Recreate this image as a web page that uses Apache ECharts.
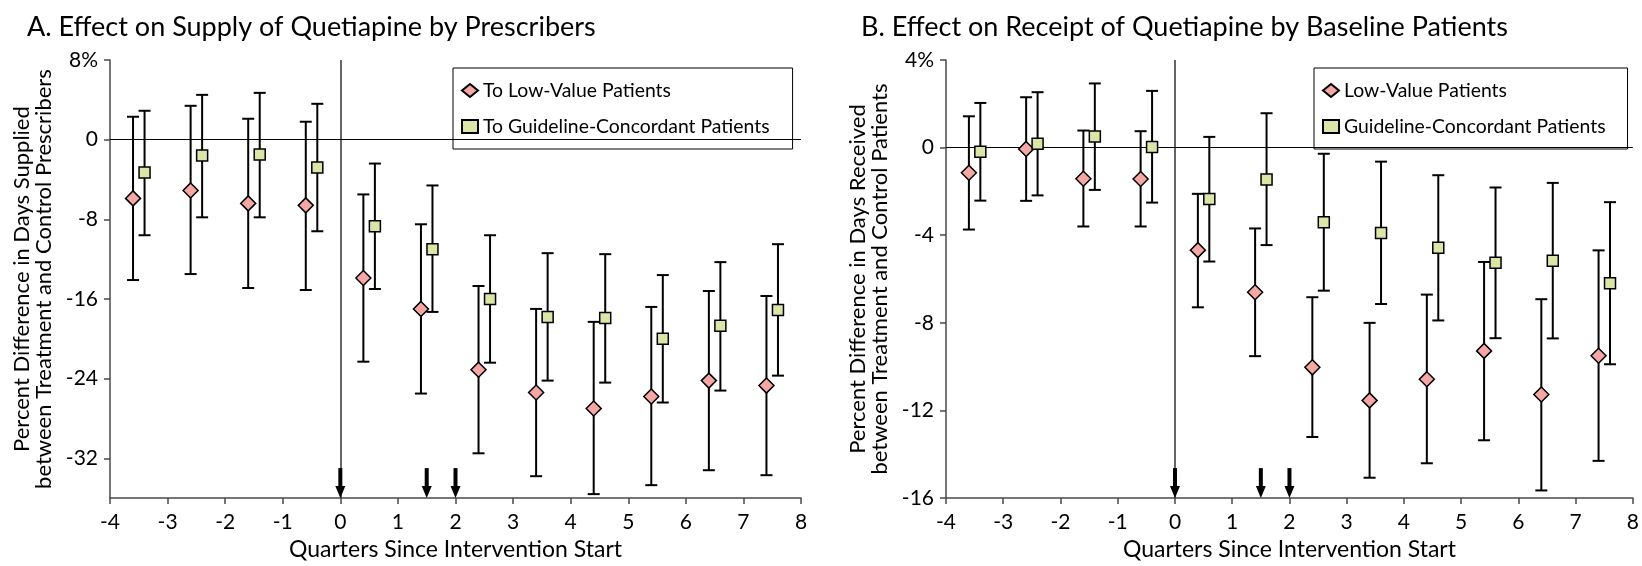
<!DOCTYPE html>
<html>
<head>
<meta charset="utf-8">
<script src="https://cdn.jsdelivr.net/npm/echarts@6/dist/echarts.min.js"></script>
<style>
html,body{margin:0;padding:0;background:#fff;}
#chart{width:1642px;height:566px;}
</style>
</head>
<body>
<div id="chart"></div>
<script>
// ---------- DATA ----------
const quarters = [-4, -3, -2, -1, 0, 1, 2, 3, 4, 5, 6, 7];
const arrowQuarters = [0, 1.5, 2];

// Panel A: Supply by prescribers (percent)
const aLowEst  = [-5.9, -5.1, -6.4, -6.6, -13.9, -17.0, -23.1, -25.4, -27.0, -25.8, -24.2, -24.7];
const aLowLo   = [-14.1, -13.5, -14.9, -15.1, -22.3, -25.5, -31.5, -33.8, -35.6, -34.7, -33.2, -33.7];
const aLowHi   = [2.3, 3.4, 2.1, 1.8, -5.5, -8.5, -14.7, -17.0, -18.3, -16.8, -15.2, -15.7];
const aGcEst   = [-3.3, -1.6, -1.5, -2.8, -8.7, -11.0, -16.0, -17.8, -17.9, -20.0, -18.7, -17.1];
const aGcLo    = [-9.6, -7.8, -7.8, -9.2, -15.0, -17.3, -22.4, -24.2, -24.4, -26.4, -25.2, -23.7];
const aGcHi    = [2.9, 4.5, 4.7, 3.6, -2.4, -4.6, -9.6, -11.4, -11.5, -13.6, -12.3, -10.5];

// Panel B: Receipt by baseline patients (percent)
const bLowEst  = [-1.15, -0.06, -1.42, -1.43, -4.68, -6.6, -10.03, -11.54, -10.57, -9.28, -11.27, -9.5];
const bLowLo   = [-3.74, -2.43, -3.6, -3.6, -7.29, -9.52, -13.21, -15.07, -14.41, -13.36, -15.65, -14.3];
const bLowHi   = [1.43, 2.3, 0.78, 0.75, -2.11, -3.69, -6.83, -8.0, -6.71, -5.22, -6.92, -4.69];
const bGcEst   = [-0.19, 0.18, 0.51, 0.03, -2.35, -1.45, -3.41, -3.9, -4.57, -5.26, -5.16, -6.19];
const bGcLo    = [-2.42, -2.18, -1.93, -2.51, -5.2, -4.45, -6.53, -7.14, -7.89, -8.7, -8.71, -9.89];
const bGcHi    = [2.04, 2.53, 2.93, 2.59, 0.49, 1.57, -0.28, -0.64, -1.26, -1.82, -1.61, -2.49];

const aYTicks = [-32, -24, -16, -8, 0, 8];
const bYTicks = [-16, -12, -8, -4, 0, 4];

const titleA = 'A. Effect on Supply of Quetiapine by Prescribers';
const titleB = 'B. Effect on Receipt of Quetiapine by Baseline Patients';
const yNameA = 'Percent Difference in Days Supplied\nbetween Treatment and Control Prescribers';
const yNameB = 'Percent Difference in Days Received\nbetween Treatment and Control Patients';
const xName  = 'Quarters Since Intervention Start';
const legA = ['To Low-Value Patients', 'To Guideline-Concordant Patients'];
const legB = ['Low-Value Patients', 'Guideline-Concordant Patients'];

// ---------- STYLE ----------
const FONT = 'Lato';
const PINK = '#F4A7A4';
const GREEN = '#DCE5A8';
const OFF_LOW = 0.4, OFF_GC = 0.6;
const AXIS_COLOR = '#4a4a4a';

function errData(lo, hi, off) {
  return quarters.map((q, i) => [q + off, lo[i], hi[i]]);
}
function ptData(est, off) {
  return quarters.map((q, i) => [q + off, est[i]]);
}
function errRender(params, api) {
  const x = api.value(0);
  const lo = api.coord([x, api.value(1)]);
  const hi = api.coord([x, api.value(2)]);
  const cw = 6;
  const st = { stroke: '#000', lineWidth: 2, fill: null };
  return {
    type: 'group',
    children: [
      { type: 'line', shape: { x1: lo[0], y1: lo[1], x2: hi[0], y2: hi[1] }, style: st },
      { type: 'line', shape: { x1: lo[0] - cw, y1: lo[1], x2: lo[0] + cw, y2: lo[1] }, style: st },
      { type: 'line', shape: { x1: hi[0] - cw, y1: hi[1], x2: hi[0] + cw, y2: hi[1] }, style: st }
    ]
  };
}
function arrowRender(params, api) {
  const p = api.coord([api.value(0), 0]);
  const x = p[0];
  const b = params.coordSys.y + params.coordSys.height;
  return {
    type: 'group',
    children: [
      { type: 'rect', shape: { x: x - 2, y: b - 30, width: 4, height: 20 }, style: { fill: '#000' } },
      { type: 'polygon', shape: { points: [[x - 5, b - 12], [x + 5, b - 12], [x, b]] }, style: { fill: '#000' } }
    ]
  };
}

function xAxisCfg(gi) {
  return {
    type: 'value', gridIndex: gi, min: -4, max: 8, interval: 1,
    name: xName, nameLocation: 'middle', nameGap: 36,
    nameTextStyle: { fontFamily: FONT, fontSize: 23, color: '#000' },
    axisLine: { show: true, onZero: false, lineStyle: { color: AXIS_COLOR, width: 1.5 } },
    axisTick: { show: true, length: 6, lineStyle: { color: AXIS_COLOR, width: 1.5 } },
    axisLabel: { fontFamily: FONT, fontSize: 21, color: '#000', margin: 14 },
    splitLine: { show: false }
  };
}
function yAxisCfg(gi, min, max, ticks, name, topLabel) {
  return {
    type: 'value', gridIndex: gi, min: min, max: max,
    name: name, nameLocation: 'middle', nameGap: 55,
    nameTextStyle: { fontFamily: FONT, fontSize: 22, color: '#000', lineHeight: 22 },
    axisLine: { show: true, onZero: false, lineStyle: { color: AXIS_COLOR, width: 1.5 } },
    axisTick: { show: true, length: 6, customValues: ticks, lineStyle: { color: AXIS_COLOR, width: 1.5 } },
    axisLabel: {
      fontFamily: FONT, fontSize: 21, color: '#000', margin: 12, customValues: ticks,
      formatter: v => (v === topLabel ? v + '%' : String(v))
    },
    splitLine: { show: false }
  };
}
function panelSeries(gi, lowEst, lowLo, lowHi, gcEst, gcLo, gcHi, names) {
  const refLines = {
    silent: true, symbol: 'none', label: { show: false },
    data: [
      { xAxis: 0, lineStyle: { color: '#333', width: 1.5, type: 'solid' } },
      { yAxis: 0, lineStyle: { color: '#000', width: 1.2, type: 'solid' } }
    ]
  };
  return [
    { type: 'custom', name: 'errLow' + gi, xAxisIndex: gi, yAxisIndex: gi, renderItem: errRender,
      data: errData(lowLo, lowHi, OFF_LOW), encode: { x: 0, y: [1, 2] }, z: 3, markLine: refLines },
    { type: 'custom', name: 'errGc' + gi, xAxisIndex: gi, yAxisIndex: gi, renderItem: errRender,
      data: errData(gcLo, gcHi, OFF_GC), encode: { x: 0, y: [1, 2] }, z: 3 },
    { type: 'custom', name: 'arrows' + gi, xAxisIndex: gi, yAxisIndex: gi, renderItem: arrowRender,
      data: arrowQuarters.map(q => [q, 0]), encode: { x: 0, y: 1 }, z: 5 },
    { type: 'scatter', name: names[0], xAxisIndex: gi, yAxisIndex: gi, data: ptData(lowEst, OFF_LOW),
      symbol: 'diamond', symbolSize: [15, 15], z: 6,
      itemStyle: { color: PINK, borderColor: '#000', borderWidth: 1.5, opacity: 1 } },
    { type: 'scatter', name: names[1], xAxisIndex: gi, yAxisIndex: gi, data: ptData(gcEst, OFF_GC),
      symbol: 'rect', symbolSize: [11, 11], z: 6,
      itemStyle: { color: GREEN, borderColor: '#000', borderWidth: 1.5, opacity: 1 } }
  ];
}
function legendCfg(left, names, padRight) {
  return {
    left: left, top: 68, orient: 'vertical',
    data: [{ name: names[0], icon: 'diamond' }, { name: names[1], icon: 'rect' }],
    itemWidth: 16, itemHeight: 13, itemGap: 17,
    padding: [13, padRight, 13, 8],
    backgroundColor: '#fff', borderColor: '#000', borderWidth: 1, borderRadius: 0,
    textStyle: { fontFamily: FONT, fontSize: 19.4, color: '#000' },
    selectedMode: false
  };
}

const chart = echarts.init(document.getElementById('chart'), null, { renderer: 'canvas' });
chart.setOption({
  animation: false,
  backgroundColor: '#fff',
  title: [
    { text: titleA, left: 22, top: 9, textStyle: { fontFamily: FONT, fontSize: 27, fontWeight: 'normal', color: '#000' } },
    { text: titleB, left: 856, top: 9, textStyle: { fontFamily: FONT, fontSize: 27, fontWeight: 'normal', color: '#000' } }
  ],
  grid: [
    { left: 110, top: 60, width: 691, height: 447, containLabel: false },
    { left: 946, top: 60, width: 690, height: 447, containLabel: false }
  ],
  xAxis: [xAxisCfg(0), xAxisCfg(1)],
  yAxis: [
    yAxisCfg(0, -36, 8, aYTicks, yNameA, 8),
    yAxisCfg(1, -16, 4, bYTicks, yNameB, 4)
  ],
  legend: [legendCfg(453, legA, 23), legendCfg(1314, legB, 22)],
  series: [].concat(
    panelSeries(0, aLowEst, aLowLo, aLowHi, aGcEst, aGcLo, aGcHi, legA),
    panelSeries(1, bLowEst, bLowLo, bLowHi, bGcEst, bGcLo, bGcHi, legB)
  )
});
</script>
</body>
</html>
